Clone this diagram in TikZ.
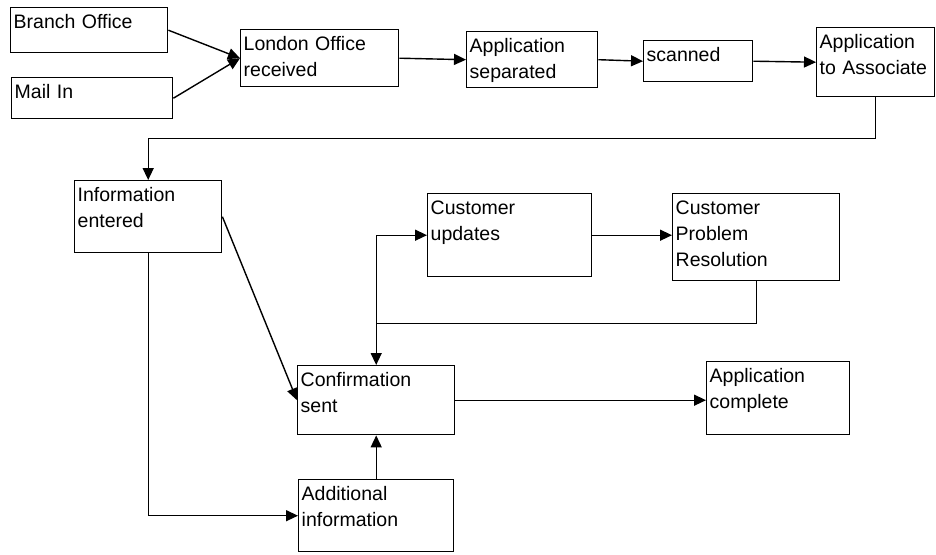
\documentclass[tikz,border=0pt]{standalone}
\usepackage{fontspec}
\setmainfont{Liberation Sans}
\usetikzlibrary{arrows.meta,calc}

\begin{document}
\begin{tikzpicture}[x=1pt, y=-1pt,
	flow/.style 2 args={draw, line width=1.4pt, anchor=north west, align=left,
		inner xsep=3pt, inner ysep=0pt, text width={#1-6pt},
		text height=21pt, text depth={#2-21pt},
		font=\fontsize{19.5}{26}\selectfont},
	link/.style={line width=1.4pt, -{Triangle[length=12pt,width=11pt]}}]
	\useasboundingbox (0,0) rectangle (936,554);
	% top row
	\node [flow={157pt}{45pt}] (branch) at (10,7) {Branch Office};
	\node [flow={161pt}{41pt}] (mail) at (11,77) {Mail In};
	\node [flow={158pt}{57pt}] (london) at (240,29) {London Office\\received};
	\node [flow={131pt}{56pt}] (sep) at (466,31) {Application\\separated};
	\node [flow={109pt}{41pt}] (scan) at (643,40) {scanned};
	\node [flow={118pt}{69pt}] (assoc) at (816,27) {Application\\to Associate};
	% middle
	\node [flow={147pt}{72pt}] (info) at (74,180) {Information\\entered};
	\node [flow={164pt}{83pt}] (upd) at (427,193) {Customer\\updates};
	\node [flow={167pt}{87pt}] (res) at (672,193) {Customer\\Problem\\Resolution};
	% bottom
	\node [flow={157pt}{69pt}] (conf) at (297,365) {Confirmation\\sent};
	\node [flow={143pt}{73pt}] (compl) at (706,361) {Application\\complete};
	\node [flow={155pt}{72pt}] (addl) at (298,479) {Additional\\information};

	\draw [link] (branch.east) -- (london.west);
	\draw [link] (mail.east) -- (london.west);
	\draw [link] (london.east) -- (sep.west);
	\draw [link] (sep.east) -- (scan.west);
	\draw [link] (scan.east) -- (assoc.west);
	\draw [link] (assoc.south) -- ++(0,41) -| (info.north);
	\draw [link] (info.east) -- (conf.west);
	\draw [link] (info.south) |- (addl.west);
	\draw [link] (addl.north) -- (conf.south);
	\draw [link] (conf.east) -- (conf.east -| compl.west);
	\draw [link] (upd.east) -- (upd.east -| res.west);
	\draw [link] (res.south) -- ++(0,42) coordinate (join) -| (conf.north);
	\draw [link] (join -| conf.north) |- (upd.west);
\end{tikzpicture}
\end{document}
